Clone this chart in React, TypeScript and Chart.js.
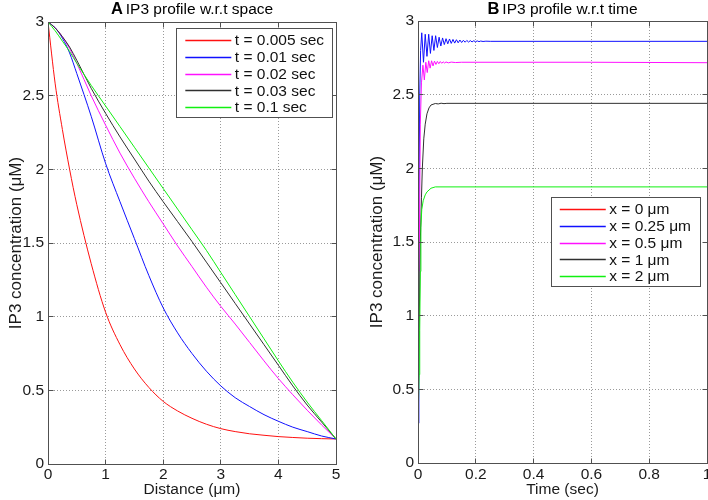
import React, { useEffect, useRef } from "react";
import { Chart, registerables } from "chart.js";

Chart.register(...registerables);

const FONT = "'Liberation Sans', Arial, Helvetica, sans-serif";

// ---------- Panel A: IP3 profile w.r.t space ----------
const distance = [0, 0.125, 0.25, 0.375, 0.5, 0.75, 1, 1.25, 1.5, 1.75, 2, 2.25, 2.5, 2.75, 3, 3.25, 3.5, 3.75, 4, 4.25, 4.5, 4.75, 5];
const ip3T0005 = [3.0, 2.58, 2.27, 2.0, 1.76, 1.36, 1.03, 0.81, 0.645, 0.52, 0.425, 0.36, 0.31, 0.27, 0.24, 0.22, 0.205, 0.195, 0.186, 0.18, 0.175, 0.172, 0.17];
const ip3T001 = [3.0, 2.96, 2.89, 2.79, 2.65, 2.36, 2.04, 1.78, 1.53, 1.28, 1.06, 0.89, 0.75, 0.63, 0.53, 0.45, 0.39, 0.335, 0.29, 0.25, 0.22, 0.19, 0.17];
const ip3T002 = [3.0, 2.96, 2.9, 2.82, 2.72, 2.5, 2.3, 2.11, 1.94, 1.78, 1.63, 1.48, 1.34, 1.2, 1.07, 0.95, 0.825, 0.7, 0.58, 0.47, 0.365, 0.265, 0.17];
const ip3T003 = [3.0, 2.96, 2.9, 2.83, 2.74, 2.55, 2.38, 2.22, 2.07, 1.92, 1.78, 1.645, 1.51, 1.37, 1.23, 1.09, 0.95, 0.81, 0.67, 0.53, 0.4, 0.285, 0.17];
const ip3T01 = [3.0, 2.94, 2.87, 2.8, 2.72, 2.57, 2.43, 2.29, 2.15, 2.01, 1.87, 1.73, 1.59, 1.45, 1.3, 1.15, 1.0, 0.85, 0.7, 0.555, 0.42, 0.295, 0.17];
const labelsA = ["t = 0.005 sec", "t = 0.01 sec", "t = 0.02 sec", "t = 0.03 sec", "t = 0.1 sec"];

// ---------- Panel B: IP3 profile w.r.t time ----------
const timeX0 = [0, 0.001, 1];
const ip3X0 = [0.27, 3.0, 3.0];

const timeX025 = [0, 0.003, 0.006, 0.009, 0.013, 0.019, 0.025, 0.031, 0.037, 0.043, 0.049, 0.055, 0.061, 0.067, 0.073, 0.079, 0.085, 0.091, 0.097, 0.103, 0.109, 0.115, 0.121, 0.127, 0.133, 0.139, 0.145, 0.151, 0.157, 0.163, 0.169, 0.175, 0.181, 0.187, 0.193, 0.199, 0.205, 0.211, 0.217, 0.225, 0.235, 0.25, 1];
const ip3X025 = [0.27, 1.6, 2.5, 2.8, 2.92, 2.72, 2.91, 2.76, 2.91, 2.78, 2.9, 2.8, 2.9, 2.82, 2.89, 2.83, 2.885, 2.84, 2.88, 2.845, 2.878, 2.848, 2.875, 2.85, 2.873, 2.852, 2.871, 2.854, 2.869, 2.856, 2.868, 2.857, 2.867, 2.858, 2.866, 2.859, 2.865, 2.86, 2.864, 2.861, 2.863, 2.862, 2.862];

const timeX05 = [0, 0.004, 0.008, 0.012, 0.017, 0.022, 0.027, 0.032, 0.037, 0.042, 0.047, 0.052, 0.057, 0.062, 0.067, 0.072, 0.077, 0.082, 0.087, 0.092, 0.097, 0.105, 0.115, 0.13, 0.15, 0.6, 1];
const ip3X05 = [0.27, 1.3, 2.3, 2.58, 2.7, 2.6, 2.72, 2.65, 2.73, 2.68, 2.73, 2.695, 2.728, 2.705, 2.726, 2.71, 2.725, 2.713, 2.723, 2.715, 2.722, 2.716, 2.721, 2.718, 2.72, 2.72, 2.717];

const timeX1 = [0, 0.004, 0.008, 0.012, 0.015, 0.02, 0.025, 0.031, 0.038, 0.045, 0.06, 0.07, 0.08, 0.09, 0.1, 1];
const ip3X1 = [0.27, 0.9, 1.5, 1.8, 2.0, 2.2, 2.3, 2.37, 2.41, 2.43, 2.44, 2.437, 2.442, 2.439, 2.441, 2.441];

const timeX2 = [0, 0.004, 0.006, 0.008, 0.01, 0.013, 0.018, 0.025, 0.031, 0.045, 0.06, 1];
const ip3X2 = [0.27, 0.6, 0.9, 1.3, 1.6, 1.72, 1.78, 1.82, 1.84, 1.865, 1.874, 1.874];

const labelsB = ["x = 0 \u03bcm", "x = 0.25 \u03bcm", "x = 0.5 \u03bcm", "x = 1 \u03bcm", "x = 2 \u03bcm"];

const lineColors = ["#ff1010", "#1010ff", "#ff10ff", "#303030", "#10f010"];

const xTicksA = [0, 1, 2, 3, 4, 5];
const xTicksB = [0, 0.2, 0.4, 0.6, 0.8, 1];
const yTicks = [0, 0.5, 1, 1.5, 2, 2.5, 3];

// ---------- plugins ----------
const al = (v: number) => Math.round(v - 0.5) + 0.5;

const frameTicks = {
  id: "frameTicks",
  afterDatasetsDraw(chart: any) {
    const { ctx, chartArea: a, scales } = chart;
    const L = al(a.left), R = al(a.right), T = al(a.top), B = al(a.bottom);
    const tl = 5;
    ctx.save();
    ctx.setLineDash([]);
    ctx.strokeStyle = "#505050";
    ctx.lineWidth = 1;
    ctx.beginPath();
    scales.x.ticks.forEach((t: any) => {
      const px = al(scales.x.getPixelForValue(t.value));
      ctx.moveTo(px, B); ctx.lineTo(px, B - tl);
      ctx.moveTo(px, T); ctx.lineTo(px, T + tl);
    });
    scales.y.ticks.forEach((t: any) => {
      const py = al(scales.y.getPixelForValue(t.value));
      ctx.moveTo(L, py); ctx.lineTo(L + tl, py);
      ctx.moveTo(R, py); ctx.lineTo(R - tl, py);
    });
    ctx.stroke();
    ctx.strokeRect(L, T, R - L, B - T);
    ctx.restore();
  },
};

const boxLegend = {
  id: "boxLegend",
  afterDatasetsDraw(chart: any, _args: any, opts: any) {
    const { ctx, chartArea: a } = chart;
    const ds = chart.data.datasets;
    ctx.save();
    ctx.font = `${opts.fontSize}px ${FONT}`;
    const textW = Math.max(...ds.map((d: any) => ctx.measureText(d.label).width));
    const padLeft = 8.5, lineLen = 46, gap = 3.5, padRight = 9;
    const rowH = 16.8, padTop = 12, padBottom = 10;
    const w = padLeft + lineLen + gap + textW + padRight;
    const h = padTop + rowH * (ds.length - 1) + padBottom;
    const right = a.right - opts.marginRight;
    const left = right - w;
    const top = a.top + opts.offsetTop;
    ctx.fillStyle = "#ffffff";
    ctx.fillRect(left, top, w, h);
    ctx.strokeStyle = "#505050";
    ctx.lineWidth = 1;
    ctx.setLineDash([]);
    ctx.strokeRect(al(left), al(top), Math.round(w), Math.round(h));
    ctx.textBaseline = "middle";
    ctx.textAlign = "left";
    ds.forEach((d: any, i: number) => {
      const y = top + padTop + rowH * i;
      ctx.strokeStyle = d.borderColor;
      ctx.lineWidth = 1.4;
      ctx.beginPath();
      ctx.moveTo(left + padLeft, Math.round(y) + 0.5);
      ctx.lineTo(left + padLeft + lineLen, Math.round(y) + 0.5);
      ctx.stroke();
      ctx.fillStyle = "#111";
      ctx.fillText(d.label, left + padLeft + lineLen + gap, y + 1);
    });
    ctx.restore();
  },
};

const panelTitle = {
  id: "panelTitle",
  afterDraw(chart: any, _args: any, opts: any) {
    const { ctx, chartArea: a } = chart;
    ctx.save();
    ctx.fillStyle = "#000";
    ctx.textBaseline = "alphabetic";
    ctx.textAlign = "left";
    ctx.font = `bold ${opts.letterSize}px ${FONT}`;
    const lw = ctx.measureText(opts.letter).width;
    ctx.font = `${opts.size}px ${FONT}`;
    const tw = ctx.measureText(opts.text).width;
    const gap = 3;
    const total = lw + gap + tw;
    const x0 = (a.left + a.right) / 2 - total / 2;
    ctx.font = `bold ${opts.letterSize}px ${FONT}`;
    ctx.fillText(opts.letter, x0, opts.baseline);
    ctx.font = `${opts.size}px ${FONT}`;
    ctx.fillText(opts.text, x0 + lw + gap, opts.baseline);
    ctx.restore();
  },
};

// ---------- config builders ----------
const fmt = (v: number) => String(Math.round(v * 1000) / 1000);

function makeScales(p: {
  xMin: number; xMax: number; xTicks: number[]; xTitle: string;
  yWidth: number; xHeight: number; xPad: number; yTitlePad: number;
}) {
  const tickFont = { family: FONT, size: 15.5, lineHeight: 1.2 };
  return {
    x: {
      type: "linear",
      min: p.xMin,
      max: p.xMax,
      afterBuildTicks: (s: any) => { s.ticks = p.xTicks.map((v) => ({ value: v })); },
      ticks: { color: "#1a1a1a", font: tickFont, padding: p.xPad, maxRotation: 0, autoSkip: false, callback: (v: any) => fmt(Number(v)) },
      grid: { color: "#9a9a9a", lineWidth: 1, drawTicks: false },
      border: { display: false, dash: [1, 2] },
      title: { display: true, text: p.xTitle, color: "#1a1a1a", font: { family: FONT, size: 15.5, lineHeight: 1.2 }, padding: { top: 0, bottom: 1 } },
      afterFit: (s: any) => { s.height = p.xHeight; s.paddingLeft = 0; s.paddingRight = 0; },
    },
    y: {
      type: "linear",
      min: 0,
      max: 3,
      afterBuildTicks: (s: any) => { s.ticks = yTicks.map((v) => ({ value: v })); },
      ticks: { color: "#1a1a1a", font: tickFont, padding: 4, autoSkip: false, callback: (v: any) => fmt(Number(v)) },
      grid: { color: "#9a9a9a", lineWidth: 1, drawTicks: false },
      border: { display: false, dash: [1, 2] },
      title: { display: true, text: "IP3 concentration (\u03bcM)", color: "#1a1a1a", font: { family: FONT, size: 17, lineHeight: 1.2 }, padding: { top: p.yTitlePad, bottom: 0 } },
      afterFit: (s: any) => { s.width = p.yWidth; s.paddingTop = 0; s.paddingBottom = 0; },
    },
  };
}

function makeDatasets(series: { xs: number[]; ys: number[] }[], labels: string[], smooth: boolean) {
  return series.map((s, i) => ({
    label: labels[i],
    data: s.xs.map((x, j) => ({ x, y: s.ys[j] })),
    borderColor: lineColors[i],
    backgroundColor: lineColors[i],
    borderWidth: 1,
    pointRadius: 0,
    tension: 0,
    cubicInterpolationMode: smooth ? "monotone" : "default",
    fill: false,
    order: series.length - i,
  }));
}

export default function App() {
  const refA = useRef<HTMLCanvasElement | null>(null);
  const refB = useRef<HTMLCanvasElement | null>(null);

  useEffect(() => {
    const common = {
      responsive: false,
      animation: false,
      events: [],
      plugins: { legend: { display: false }, tooltip: { enabled: false }, title: { display: false } },
    };

    const chartA = new Chart(refA.current as HTMLCanvasElement, {
      type: "line",
      data: {
        datasets: makeDatasets(
          [
            { xs: distance, ys: ip3T0005 },
            { xs: distance, ys: ip3T001 },
            { xs: distance, ys: ip3T002 },
            { xs: distance, ys: ip3T003 },
            { xs: distance, ys: ip3T01 },
          ],
          labelsA,
          true
        ),
      },
      options: {
        ...common,
        layout: { padding: { left: 0, right: 18, top: 22, bottom: 0 } },
        scales: makeScales({ xMin: 0, xMax: 5, xTicks: xTicksA, xTitle: "Distance (\u03bcm)", yWidth: 48, xHeight: 36, xPad: 1, yTitlePad: 6 }),
        plugins: {
          ...common.plugins,
          boxLegend: { fontSize: 15.5, marginRight: 3, offsetTop: 6 },
          panelTitle: { letter: "A", letterSize: 16.5, size: 15.5, text: "IP3 profile w.r.t space", baseline: 14 },
        },
      } as any,
      plugins: [frameTicks, boxLegend, panelTitle],
    } as any);

    const chartB = new Chart(refB.current as HTMLCanvasElement, {
      type: "line",
      data: {
        datasets: makeDatasets(
          [
            { xs: timeX0, ys: ip3X0 },
            { xs: timeX025, ys: ip3X025 },
            { xs: timeX05, ys: ip3X05 },
            { xs: timeX1, ys: ip3X1 },
            { xs: timeX2, ys: ip3X2 },
          ],
          labelsB,
          false
        ),
      },
      options: {
        ...common,
        layout: { padding: { left: 12, right: 1, top: 21, bottom: 0 } },
        scales: makeScales({ xMin: 0, xMax: 1, xTicks: xTicksB, xTitle: "Time (sec)", yWidth: 52, xHeight: 37, xPad: 2, yTitlePad: 1 }),
        plugins: {
          ...common.plugins,
          boxLegend: { fontSize: 15.5, marginRight: 7, offsetTop: 176 },
          panelTitle: { letter: "B", letterSize: 16.5, size: 15.5, text: "IP3 profile w.r.t time", baseline: 13.5 },
        },
      } as any,
      plugins: [frameTicks, boxLegend, panelTitle],
    } as any);

    return () => {
      chartA.destroy();
      chartB.destroy();
    };
  }, []);

  return (
    <div style={{ position: "fixed", left: 0, top: 0, width: 708, height: 500, background: "#ffffff" }}>
      <canvas ref={refA} width={354} height={500} style={{ position: "absolute", left: 0, top: 0, width: 354, height: 500 }} />
      <canvas ref={refB} width={354} height={500} style={{ position: "absolute", left: 354, top: 0, width: 354, height: 500 }} />
    </div>
  );
}
